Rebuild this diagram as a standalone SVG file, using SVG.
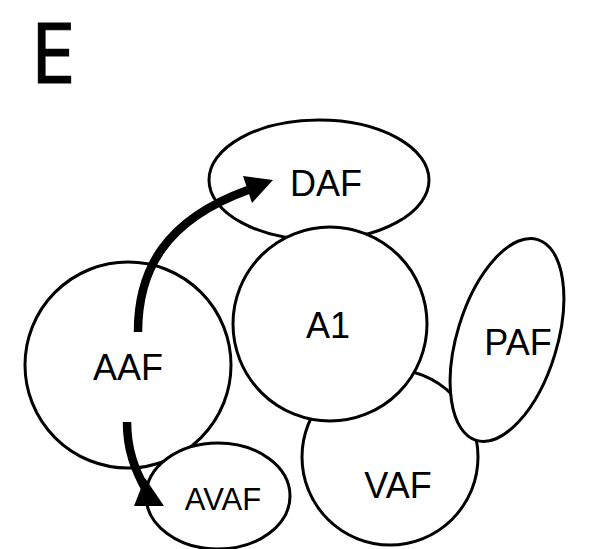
<svg xmlns="http://www.w3.org/2000/svg" width="590" height="549" viewBox="0 0 590 549">
  <style>
    .area { fill: #ffffff; stroke: #000000; stroke-width: 3; }
    .lbl { font-family: "Liberation Sans", Arial, sans-serif; font-size: 36px; fill: #000000; text-anchor: middle; }
    .arrow { fill: none; stroke: #000000; stroke-width: 8.5; }
    .head { fill: #000000; stroke: none; }
    .panel { font-family: Inter, "Open Sans", sans-serif; font-size: 82px; fill: #000000; stroke: #000000; stroke-width: 1.2; }
  </style>
  <rect width="590" height="549" fill="#ffffff"/>

  <!-- panel letter, narrowed horizontally -->
  <text class="panel" transform="translate(32 83) scale(0.88 1)">E</text>

  <g id="DAF">
    <ellipse class="area" cx="319" cy="180" rx="110" ry="60"/>
    <text class="lbl" x="326" y="196">DAF</text>
  </g>
  <g id="VAF">
    <circle class="area" cx="390" cy="457" r="88"/>
    <text class="lbl" x="398" y="498">VAF</text>
  </g>
  <g id="A1">
    <circle class="area" cx="330" cy="324" r="97"/>
    <text class="lbl" x="328" y="338">A1</text>
  </g>
  <g id="PAF">
    <ellipse class="area" cx="507" cy="340" rx="50" ry="105" transform="rotate(17 507 340)"/>
    <text class="lbl" x="518" y="355">PAF</text>
  </g>
  <g id="AAF">
    <circle class="area" cx="128" cy="365" r="103"/>
    <text class="lbl" x="128" y="380">AAF</text>
  </g>
  <g id="AVAF">
    <ellipse class="area" cx="218" cy="496" rx="72" ry="53"/>
    <text class="lbl" x="223" y="510" style="font-size:31px">AVAF</text>
  </g>

  <g id="connectors">
    <!-- AAF -> DAF -->
    <path class="arrow" d="M138,332 C138,270 165,220 248,190"/>
    <polygon class="head" points="273,180 243,176 252,203"/>
    <!-- AAF -> AVAF -->
    <path class="arrow" d="M127,422 C127,450 135,470 146,490"/>
    <polygon class="head" points="145,478 134,506 164,506"/>
  </g>
</svg>
